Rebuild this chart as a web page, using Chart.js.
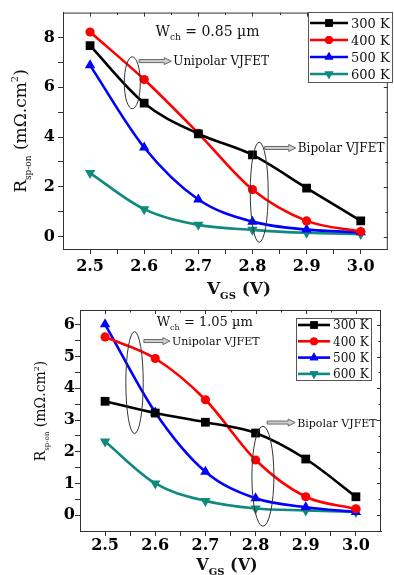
<!DOCTYPE html>
<html><head><meta charset="utf-8">
<script src="https://cdn.jsdelivr.net/npm/chart.js@4.4.0/dist/chart.umd.min.js"></script>
<style>
html,body{margin:0;padding:0;background:#fff;}
#wrap{position:relative;width:394px;height:575px;overflow:hidden;background:#fff;}
canvas{position:absolute;left:0;}
</style></head><body>
<div id="wrap">
<canvas id="c1" width="394" height="300" style="top:0"></canvas>
<canvas id="c2" width="394" height="275" style="top:300px"></canvas>
</div>
<script>
// ---------- DATA ----------
const vgs = [2.5, 2.6, 2.7, 2.8, 2.9, 3.0];
const tempLabels = ['300 K', '400 K', '500 K', '600 K'];

// W_ch = 0.85 um
const w085_300K = [7.67, 5.36, 4.13, 3.28, 1.95, 0.63];
const w085_400K = [8.22, 6.31, 4.15, 1.89, 0.63, 0.20];
const w085_500K = [6.88, 3.58, 1.49, 0.60, 0.28, 0.17];
const w085_600K = [2.55, 1.10, 0.47, 0.27, 0.15, 0.10];

// W_ch = 1.05 um
const w105_300K = [3.59, 3.22, 2.93, 2.59, 1.77, 0.58];
const w105_400K = [5.62, 4.94, 3.64, 1.74, 0.58, 0.20];
const w105_500K = [6.02, 3.24, 1.37, 0.53, 0.25, 0.10];
const w105_600K = [2.32, 1.00, 0.45, 0.21, 0.15, 0.10];

const xTickValues = [2.5, 2.55, 2.6, 2.65, 2.7, 2.75, 2.8, 2.85, 2.9, 2.95, 3.0];
const xTickLabels = ['2.5', '2.6', '2.7', '2.8', '2.9', '3.0'];
const topYTickValues = [0, 1, 2, 3, 4, 5, 6, 7, 8];
const topYTickLabels = ['0', '2', '4', '6', '8'];
const botYTickValues = [0, 0.5, 1, 1.5, 2, 2.5, 3, 3.5, 4, 4.5, 5, 5.5, 6];
const botYTickLabels = ['0', '1', '2', '3', '4', '5', '6'];

// ---------- STYLES ----------
const FAM = 'DejaVu Serif';
const seriesStyles = [
  {color: '#000000', pointStyle: 'rect', radius: 6.2, rotation: 0},
  {color: '#ff0000', pointStyle: 'circle', radius: 4.6, rotation: 0},
  {color: '#0000ff', pointStyle: 'triangle', radius: 6, rotation: 0},
  {color: '#0e8a7e', pointStyle: 'triangle', radius: 6, rotation: 180}
];

function findLabel(list, v) {
  const l = list.find(s => Math.abs(parseFloat(s) - v) < 1e-6);
  return l === undefined ? '' : l;
}

function drawRich(ctx, parts, x, y, align, rotate) {
  let total = 0;
  parts.forEach(p => {
    ctx.font = (p.bold ? 'bold ' : '') + p.size + 'px "' + FAM + '"';
    p.w = ctx.measureText(p.t).width;
    total += p.w;
  });
  const main = parts[0].size;
  ctx.save();
  ctx.translate(x, y);
  if (rotate) ctx.rotate(-Math.PI / 2);
  let cx = align === 'center' ? -total / 2 : 0;
  ctx.textAlign = 'left';
  ctx.textBaseline = 'alphabetic';
  ctx.fillStyle = '#111';
  const base = main * 0.36;
  parts.forEach(p => {
    ctx.font = (p.bold ? 'bold ' : '') + p.size + 'px "' + FAM + '"';
    ctx.fillText(p.t, cx, base + (p.dy || 0));
    cx += p.w;
  });
  ctx.restore();
}

function hollowArrow(ctx, x0, x1, y) {
  ctx.save();
  ctx.beginPath();
  ctx.moveTo(x0, y - 1.5);
  ctx.lineTo(x1 - 7, y - 1.5);
  ctx.lineTo(x1 - 7, y - 3.5);
  ctx.lineTo(x1, y);
  ctx.lineTo(x1 - 7, y + 3.5);
  ctx.lineTo(x1 - 7, y + 1.5);
  ctx.lineTo(x0, y + 1.5);
  ctx.closePath();
  ctx.fillStyle = '#d0d0d0';
  ctx.fill();
  ctx.strokeStyle = '#666';
  ctx.lineWidth = 1;
  ctx.stroke();
  ctx.restore();
}

function buildChart(id, seriesArrays, cfg) {
  const datasets = seriesArrays.map((arr, i) => {
    const s = seriesStyles[i];
    return {
      label: tempLabels[i],
      data: vgs.map((x, k) => ({x: x, y: arr[k]})),
      borderColor: s.color,
      backgroundColor: s.color,
      borderWidth: 2.6,
      pointStyle: s.pointStyle,
      pointRadius: s.radius,
      pointRotation: s.rotation,
      pointBorderWidth: 0,
      pointBackgroundColor: s.color,
      cubicInterpolationMode: 'monotone',
      fill: false
    };
  });

  const framePlugin = {
    id: 'frame',
    afterDraw(chart) {
      const ctx = chart.ctx, a = chart.chartArea;
      const xs = chart.scales.x, ys = chart.scales.y;
      ctx.save();
      ctx.strokeStyle = '#333';
      ctx.lineWidth = 1;
      ctx.beginPath();
      ctx.moveTo(a.left, a.top + 0.5); ctx.lineTo(a.right, a.top + 0.5);
      ctx.moveTo(a.right - 0.5, a.top); ctx.lineTo(a.right - 0.5, a.bottom);
      xs.ticks.forEach(t => {
        const px = Math.round(xs.getPixelForValue(t.value)) + 0.5;
        const len = findLabel(xTickLabels, t.value) ? 4 : 2.5;
        ctx.moveTo(px, a.top); ctx.lineTo(px, a.top + len);
      });
      ys.ticks.forEach(t => {
        const py = Math.round(ys.getPixelForValue(t.value)) + 0.5;
        const len = findLabel(cfg.yLabels, t.value) ? 4 : 2.5;
        ctx.moveTo(a.right, py); ctx.lineTo(a.right - len, py);
      });
      ctx.stroke();
      ctx.restore();
    }
  };

  const annotPlugin = {
    id: 'annot',
    afterDatasetsDraw(chart) {
      const ctx = chart.ctx, xs = chart.scales.x, ys = chart.scales.y;
      const an = cfg.annot;
      ctx.save();
      ctx.strokeStyle = '#333';
      ctx.lineWidth = 1;
      an.ellipses.forEach(e => {
        ctx.beginPath();
        ctx.ellipse(xs.getPixelForValue(e.x), ys.getPixelForValue(e.y), e.rx, e.ry, 0, 0, Math.PI * 2);
        ctx.stroke();
      });
      an.arrows.forEach(ar => {
        const y = ys.getPixelForValue(ar.y);
        const x0 = xs.getPixelForValue(ar.x0), x1 = xs.getPixelForValue(ar.x1);
        hollowArrow(ctx, x0, x1, y);
        drawRich(ctx, [{t: ar.text, size: ar.size}], x1 + 2, y, 'left', false);
      });
      const w = an.wlabel;
      drawRich(ctx, [
        {t: 'W', size: w.size},
        {t: 'ch', size: Math.round(w.size * 0.65), dy: w.size * 0.3},
        {t: ' = ' + w.value + ' \u00b5m', size: w.size}
      ], xs.getPixelForValue(w.x), ys.getPixelForValue(w.y), 'left', false);
      ctx.restore();
    }
  };

  const legendPlugin = {
    id: 'legendBox',
    afterDraw(chart) {
      const ctx = chart.ctx, L = cfg.legend;
      ctx.save();
      ctx.fillStyle = '#fff';
      ctx.fillRect(L.left, L.top, L.width, L.height);
      ctx.strokeStyle = '#555';
      ctx.lineWidth = 1;
      ctx.strokeRect(L.left + 0.5, L.top + 0.5, L.width, L.height);
      chart.data.datasets.forEach((ds, i) => {
        const y = L.top + L.firstRow + i * L.rowGap;
        const s = seriesStyles[i];
        ctx.strokeStyle = s.color;
        ctx.lineWidth = 2.6;
        ctx.beginPath();
        ctx.moveTo(L.left + L.lineX0, y);
        ctx.lineTo(L.left + L.lineX1, y);
        ctx.stroke();
        ctx.fillStyle = s.color;
        Chart.helpers.drawPoint(ctx, {pointStyle: s.pointStyle, radius: s.radius * 0.85, rotation: s.rotation, borderWidth: 0},
          L.left + (L.lineX0 + L.lineX1) / 2, y);
        ctx.fill();
        drawRich(ctx, [{t: ds.label, size: L.size}], L.left + L.textX, y, 'left', false);
      });
      ctx.restore();
    }
  };

  const titlePlugin = {
    id: 'axisTitles',
    afterDraw(chart) {
      const ctx = chart.ctx, T = cfg.titles;
      drawRich(ctx, [
        {t: 'V', size: T.xSize, bold: true},
        {t: 'GS', size: Math.round(T.xSize * 0.6), bold: true, dy: T.xSize * 0.3},
        {t: ' (V)', size: T.xSize, bold: true}
      ], T.xX, T.xY, 'center', false);
      drawRich(ctx, [
        {t: 'R', size: T.ySize},
        {t: 'sp-on', size: Math.round(T.ySize * 0.5), dy: T.ySize * 0.3},
        {t: ' (m\u03a9.cm', size: T.ySize},
        {t: '2', size: Math.round(T.ySize * 0.6), dy: -T.ySize * 0.45},
        {t: ')', size: T.ySize}
      ], T.yX, T.yY, 'center', true);
    }
  };

  return new Chart(document.getElementById(id), {
    type: 'line',
    data: {datasets: datasets},
    options: {
      responsive: false,
      animation: false,
      devicePixelRatio: 1,
      layout: {padding: {top: cfg.padTop, right: cfg.padRight, left: 0, bottom: 0}},
      plugins: {legend: {display: false}, tooltip: {enabled: false}, title: {display: false}},
      scales: {
        x: {
          type: 'linear', min: 2.45, max: 3.05,
          afterBuildTicks: s => { s.ticks = xTickValues.map(v => ({value: v})); },
          afterFit: s => { s.height = cfg.xHeight; },
          ticks: {
            autoSkip: false, maxRotation: 0, padding: cfg.xPad, color: '#000',
            font: {family: FAM, size: 16, weight: 'bold'},
            callback: v => findLabel(xTickLabels, v)
          },
          grid: {drawOnChartArea: false, tickLength: 5, tickColor: '#333'},
          border: {color: '#333', width: 1}
        },
        y: {
          type: 'linear', min: cfg.yMin, max: cfg.yMax,
          afterBuildTicks: s => { s.ticks = cfg.yTicks.map(v => ({value: v})); },
          afterFit: s => { s.width = cfg.yWidth; },
          ticks: {
            autoSkip: false, padding: cfg.yPad, color: '#000',
            font: {family: FAM, size: 16, weight: 'bold'},
            callback: v => findLabel(cfg.yLabels, v)
          },
          grid: {drawOnChartArea: false, tickLength: 5, tickColor: '#333'},
          border: {color: '#333', width: 1}
        }
      }
    },
    plugins: [annotPlugin, framePlugin, legendPlugin, titlePlugin]
  });
}

buildChart('c1', [w085_300K, w085_400K, w085_500K, w085_600K], {
  padTop: 10, padRight: 1, xHeight: 51, yWidth: 63, xPad: 3, yPad: 3,
  yMin: -0.5, yMax: 9, yTicks: topYTickValues, yLabels: topYTickLabels,
  annot: {
    ellipses: [{x: 2.578, y: 6.18, rx: 8, ry: 26}, {x: 2.8125, y: 1.78, rx: 9, ry: 50}],
    arrows: [
      {x0: 2.5906, x1: 2.650, y: 7.05, text: 'Unipolar VJFET', size: 12},
      {x0: 2.8225, x1: 2.880, y: 3.56, text: 'Bipolar VJFET', size: 12}
    ],
    wlabel: {x: 2.621, y: 8.28, value: '0.85', size: 14}
  },
  legend: {left: 308, top: 12, width: 84, height: 70, firstRow: 11, rowGap: 17, lineX0: 2, lineX1: 40, textX: 43, size: 13},
  titles: {xX: 239, xY: 288, xSize: 17, yX: 20, yY: 131, ySize: 17}
});

buildChart('c2', [w105_300K, w105_400K, w105_500K, w105_600K], {
  padTop: 10, padRight: 13, xHeight: 44, yWidth: 80, xPad: 0, yPad: 0,
  yMin: -0.5, yMax: 6.47, yTicks: botYTickValues, yLabels: botYTickLabels,
  annot: {
    ellipses: [{x: 2.5587, y: 4.18, rx: 8.7, ry: 51}, {x: 2.8146, y: 1.227, rx: 11, ry: 50}],
    arrows: [
      {x0: 2.5773, x1: 2.6292, y: 5.49, text: 'Unipolar VJFET', size: 11},
      {x0: 2.823, x1: 2.879, y: 2.92, text: 'Bipolar VJFET', size: 11}
    ],
    wlabel: {x: 2.603, y: 6.12, value: '1.05', size: 13}
  },
  legend: {left: 296, top: 18, width: 75, height: 62, firstRow: 7, rowGap: 16.3, lineX0: 2, lineX1: 34, textX: 37, size: 12},
  titles: {xX: 227, xY: 264, xSize: 16, yX: 40, yY: 111, ySize: 14}
});
</script>
</body></html>
